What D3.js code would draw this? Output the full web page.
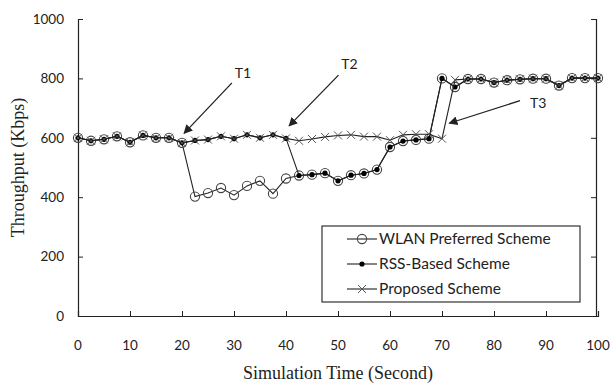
<!DOCTYPE html>
<html>
<head>
<meta charset="utf-8">
<script src="https://cdn.jsdelivr.net/npm/d3@7"></script>
<style>
  body { margin: 0; background: #fff; }
  svg { display: block; }
  .tick-label { font-family: Lato, "Open Sans", sans-serif; font-size: 13.5px; fill: #222; }
  .axis-title { font-family: "Liberation Serif", "DejaVu Serif", serif; font-size: 18px; fill: #222; }
  .legend-text { font-family: Lato, "Open Sans", sans-serif; font-size: 15.5px; fill: #222; }
  .note { font-family: Lato, "Open Sans", sans-serif; font-size: 14px; fill: #222; }
</style>
</head>
<body>
<div id="chart"></div>
<script>
// simulation time (s)
const times = [0, 2.5, 5, 7.5, 10, 12.5, 15, 17.5, 20, 22.5, 25, 27.5, 30, 32.5, 35, 37.5, 40,
  42.5, 45, 47.5, 50, 52.5, 55, 57.5, 60, 62.5, 65, 67.5, 70, 72.5, 75, 77.5, 80, 82.5, 85,
  87.5, 90, 92.5, 95, 97.5, 100];

// throughput (Kbps)
const wlanPreferred = [600, 590, 595, 605, 585, 608, 600, 600, 583,
  402, 414, 431, 407, 438, 455, 412, 463,
  473, 476, 481, 455, 474, 480, 493,
  569, 589, 593, 597,
  800, 771, 798, 798, 786, 794, 797, 799, 799, 776, 801, 801, 801];

const rssBased = [600, 590, 595, 605, 585, 608, 600, 600, 583,
  591, 594, 605, 597, 610, 600, 610, 598,
  473, 476, 481, 455, 474, 480, 493,
  569, 589, 593, 597,
  800, 771, 798, 798, 786, 794, 797, 799, 799, 776, 801, 801, 801];

const proposed = [600, 590, 595, 605, 585, 608, 600, 600, 583,
  591, 594, 605, 597, 610, 600, 610, 598,
  590, 596, 603, 608, 610, 604, 604, 592, 610, 612, 612,
  597, 795,
  798, 798, 786, 794, 797, 799, 799, 776, 801, 801, 801];

const seriesNames = ['WLAN Preferred Scheme', 'RSS-Based Scheme', 'Proposed Scheme'];
const xTicks = [0, 10, 20, 30, 40, 50, 60, 70, 80, 90, 100];
const yTicks = [0, 200, 400, 600, 800, 1000];

// annotation: label, label point, arrow tail, arrow head (data units)
const notes = [
  { label: 'T1', at: [31.7, 817], from: [29.6, 785], to: [20.4, 615] },
  { label: 'T2', at: [52.2, 847], from: [50.1, 811], to: [40.6, 640] },
  { label: 'T3', at: [88.5, 716], from: [85.0, 725], to: [71.4, 649] },
];

const width = 611;
const height = 385;
const margin = { top: 19, right: 13, bottom: 69, left: 78 };

const svg = d3.select('#chart').append('svg')
  .attr('width', width)
  .attr('height', height);

const x = d3.scaleLinear().domain([0, 100]).range([margin.left, width - margin.right]);
const y = d3.scaleLinear().domain([0, 1000]).range([height - margin.bottom, margin.top]);

svg.append('defs').append('marker')
  .attr('id', 'arrow')
  .attr('viewBox', '0 0 10 10')
  .attr('refX', 9)
  .attr('refY', 5)
  .attr('markerWidth', 9)
  .attr('markerHeight', 9)
  .attr('markerUnits', 'userSpaceOnUse')
  .attr('orient', 'auto')
  .append('path')
  .attr('d', 'M0,0 L10,5 L0,10 Z')
  .attr('fill', '#222');

// axes
const yAxisL = d3.axisRight(y).tickValues(yTicks).tickSize(5).tickFormat('');
const yAxisR = d3.axisLeft(y).tickValues(yTicks).tickSize(5).tickFormat('');
const xAxis = d3.axisTop(x).tickValues(xTicks).tickSize(5).tickFormat('');

svg.append('g').attr('transform', `translate(${x(0)},0)`).call(yAxisL);
svg.append('g').attr('transform', `translate(${x(100) - 2},0)`).call(yAxisR);
svg.append('g').attr('transform', `translate(0,${y(0)})`).call(xAxis);
svg.selectAll('.domain').attr('stroke', '#222').attr('stroke-width', 1.2);
svg.selectAll('.tick line').attr('stroke', '#222');
svg.selectAll('.tick').filter((d) => d === 0 || d === 1000 || d === 100).select('line').remove();

svg.append('g').selectAll('text')
  .data(yTicks)
  .join('text')
  .attr('class', 'tick-label')
  .attr('x', 64)
  .attr('y', (d) => y(d))
  .attr('dy', '0.35em')
  .attr('text-anchor', 'end')
  .text((d) => d);

svg.append('g').selectAll('text')
  .data(xTicks)
  .join('text')
  .attr('class', 'tick-label')
  .attr('x', (d) => x(d))
  .attr('y', 345)
  .attr('dy', '0.35em')
  .attr('text-anchor', 'middle')
  .text((d) => d);

svg.append('text')
  .attr('class', 'axis-title')
  .attr('transform', `translate(18,${(y(0) + y(1000)) / 2}) rotate(-90)`)
  .attr('text-anchor', 'middle')
  .attr('dy', '0.35em')
  .text('Throughput (Kbps)');

svg.append('text')
  .attr('class', 'axis-title')
  .attr('x', (x(0) + x(100)) / 2)
  .attr('y', 373)
  .attr('text-anchor', 'middle')
  .attr('dy', '0.35em')
  .text('Simulation Time (Second)');

// series
const line = d3.line().x((d) => x(d[0])).y((d) => y(d[1]));
const pts = (vals) => times.map((t, i) => [t, vals[i]]);

const drawMarker = (g, kind) => {
  if (kind === 0) {
    g.append('circle').attr('r', 4.6).attr('fill', 'none').attr('stroke', '#444').attr('stroke-width', 1.1);
  } else if (kind === 1) {
    g.append('circle').attr('r', 2.6).attr('fill', '#000');
  } else {
    g.append('path').attr('d', 'M-4,-4L4,4M-4,4L4,-4').attr('stroke', '#555').attr('stroke-width', 1);
  }
};

[wlanPreferred, rssBased, proposed].forEach((vals, k) => {
  const data = pts(vals);
  svg.append('path')
    .datum(data)
    .attr('d', line)
    .attr('fill', 'none')
    .attr('stroke', '#222')
    .attr('stroke-width', 1.1);
  svg.append('g').selectAll('g')
    .data(data)
    .join('g')
    .attr('transform', (d) => `translate(${x(d[0])},${y(d[1])})`)
    .each(function () { drawMarker(d3.select(this), k); });
});

// annotations
notes.forEach((n) => {
  svg.append('line')
    .attr('x1', x(n.from[0])).attr('y1', y(n.from[1]))
    .attr('x2', x(n.to[0])).attr('y2', y(n.to[1]))
    .attr('stroke', '#222')
    .attr('stroke-width', 1.3)
    .attr('marker-end', 'url(#arrow)');
  svg.append('text')
    .attr('class', 'note')
    .attr('x', x(n.at[0]))
    .attr('y', y(n.at[1]))
    .attr('dy', '0.35em')
    .attr('text-anchor', 'middle')
    .text(n.label);
});

// legend
const legend = svg.append('g').attr('transform', 'translate(322,226)');
legend.append('rect')
  .attr('width', 258)
  .attr('height', 76)
  .attr('fill', '#fff')
  .attr('stroke', '#333')
  .attr('stroke-width', 1.2);

seriesNames.forEach((name, k) => {
  const row = legend.append('g').attr('transform', `translate(0,${13 + k * 25})`);
  row.append('line').attr('x1', 25).attr('x2', 55).attr('stroke', '#222').attr('stroke-width', 1.1);
  drawMarker(row.append('g').attr('transform', 'translate(40,0)'), k);
  row.append('text')
    .attr('class', 'legend-text')
    .attr('x', 57)
    .attr('dy', '0.35em')
    .text(name);
});
</script>
</body>
</html>
